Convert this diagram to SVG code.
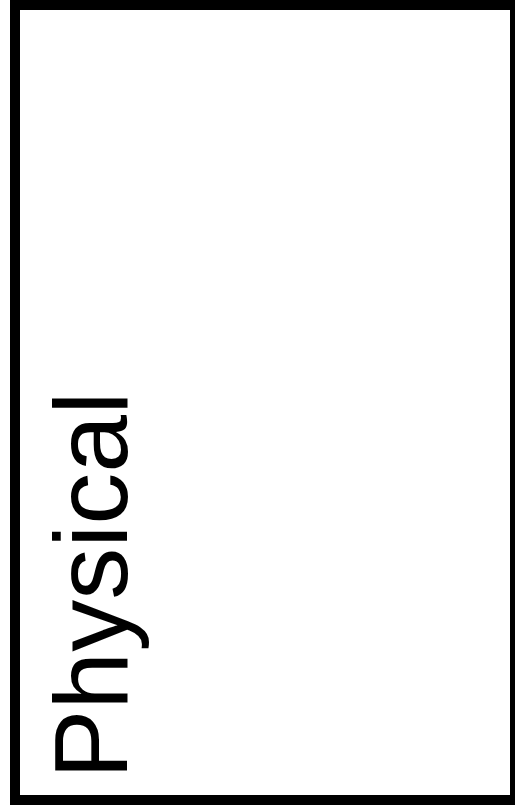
<svg xmlns="http://www.w3.org/2000/svg" width="515" height="810" viewBox="0 0 515 810">
<style>
.frame{fill:#fff;stroke:#000;stroke-width:10}
.lbl{font-family:"Liberation Sans",Arial,sans-serif;font-size:104px;fill:#000}
</style>
<rect width="515" height="810" fill="#fff"/>
<g id="physical">
<rect class="frame" x="15" y="5" width="500" height="795"/>
<text class="lbl" transform="translate(127,779) rotate(-90)">Physical</text>
</g>
</svg>
